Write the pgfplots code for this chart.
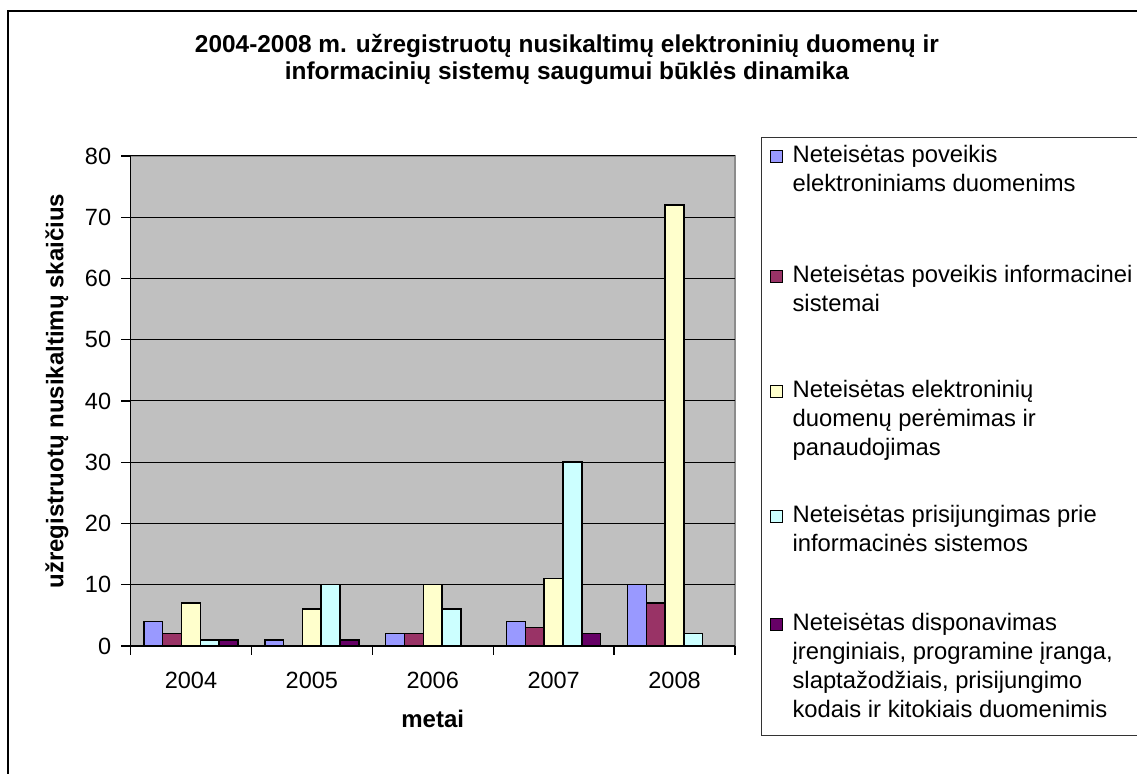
\documentclass[border=0pt]{standalone}
\usepackage{pgfplots}
\pgfplotsset{compat=1.18}
\usepackage{fontspec}
\setmainfont{Liberation Sans}
\definecolor{cA}{HTML}{9999FF}
\definecolor{cB}{HTML}{993366}
\definecolor{cC}{HTML}{FFFFCC}
\definecolor{cD}{HTML}{CCFFFF}
\definecolor{cE}{HTML}{660066}
\definecolor{plotgray}{HTML}{C0C0C0}
\newcommand{\legtxt}[2]{\parbox[t]{260pt}{\fontsize{11.9}{14.5}\selectfont\rule{0pt}{10pt}#2\rule[-#1]{0pt}{#1}}}
\begin{document}
\fontsize{12}{14.5}\selectfont
\begin{tikzpicture}
\draw[line width=1pt] (4pt,-20pt) rectangle (640pt,381.5pt);
\begin{axis}[
  at={(65.25pt,64pt)}, anchor=south west,
  scale only axis, width=302.25pt, height=245pt,
  ybar=0pt, bar width=9.4pt,
  xmin=-0.5, xmax=4.5, ymin=0, ymax=80,
  xtick={-0.5,0.5,...,4.5}, xticklabels={},
  extra x ticks={0,1,2,3,4},
  extra x tick labels={2004,2005,2006,2007,2008},
  extra x tick style={major tick length=0pt, grid=none},
  ytick={0,10,...,80},
  ymajorgrids, grid style={black, line width=0.5pt},
  tick align=outside, major tick length=4.5pt,
  tick style={black, line width=0.6pt},
  axis background/.style={fill=plotgray, draw=black!45, line width=0.6pt},
  axis x line*=bottom, axis y line*=left,
  axis line style={black, line width=0.6pt, -},
  /pgf/number format/assume math mode=true,
  yticklabel style={font=\fontsize{11.75}{14}\selectfont, xshift=-1pt},
  xticklabel style={font=\fontsize{11.75}{14}\selectfont, anchor=base, yshift=-21.5pt},
  xlabel={\bfseries metai},
  ylabel={\bfseries užregistruotų nusikaltimų skaičius},
  every axis x label/.style={at={(axis description cs:0.5,0)}, anchor=base, yshift=-41pt, font=\fontsize{12}{14}\selectfont},
  every axis y label/.style={at={(axis description cs:-0.1216,0.52)}, rotate=90, anchor=center, font=\fontsize{12}{14}\selectfont},
  title={2004-2008 m. užregistruotų nusikaltimų elektroninių duomenų ir\\informacinių sistemų saugumui būklės dinamika},
  title style={at={(axis description cs:0.722,1)}, anchor=base, yshift=32pt, align=center, font=\bfseries\fontsize{12.2}{13.5}\selectfont},
  every axis plot post/.append style={legend image code/.code={\draw[##1, line width=0.5pt] (0pt,0pt) rectangle (6pt,6pt);}},
  legend style={at={(axis description cs:1.0430,1.0388)}, anchor=north west,
    draw=black!80, line width=0.6pt, fill=white,
    inner xsep=4pt, inner ysep=2.5pt, row sep=0pt, column sep=5pt,
    cells={anchor=base west}, nodes={inner sep=0pt, text depth=},
    font=\fontsize{11.9}{14.5}\selectfont},
]
\addplot[fill=cA, draw=black, line width=0.75pt] coordinates {(0,4) (1,1) (2,2) (3,4) (4,10)};
\addplot[fill=cB, draw=black, line width=0.75pt] coordinates {(0,2) (1,0) (2,2) (3,3) (4,7)};
\addplot[fill=cC, draw=black, line width=0.75pt] coordinates {(0,7) (1,6) (2,10) (3,11) (4,72)};
\addplot[fill=cD, draw=black, line width=0.75pt] coordinates {(0,1) (1,10) (2,6) (3,30) (4,2)};
\addplot[fill=cE, draw=black, line width=0.75pt] coordinates {(0,1) (1,1) (2,0) (3,2) (4,0)};
\addlegendentry{\legtxt{35.5pt}{Neteisėtas poveikis\\elektroniniams duomenims}}
\addlegendentry{\legtxt{33pt}{Neteisėtas poveikis informacinei\\sistemai}}
\addlegendentry{\legtxt{23.5pt}{Neteisėtas elektroninių\\duomenų perėmimas ir\\panaudojimas}}
\addlegendentry{\legtxt{29.5pt}{Neteisėtas prisijungimas prie\\informacinės sistemos}}
\addlegendentry{\legtxt{6.5pt}{Neteisėtas disponavimas\\įrenginiais, programine įranga,\\slaptažodžiais, prisijungimo\\kodais ir kitokiais duomenimis}}
\end{axis}
\pgfresetboundingbox
\useasboundingbox (0,0) rectangle (568.5pt,387pt);
\end{tikzpicture}
\end{document}
